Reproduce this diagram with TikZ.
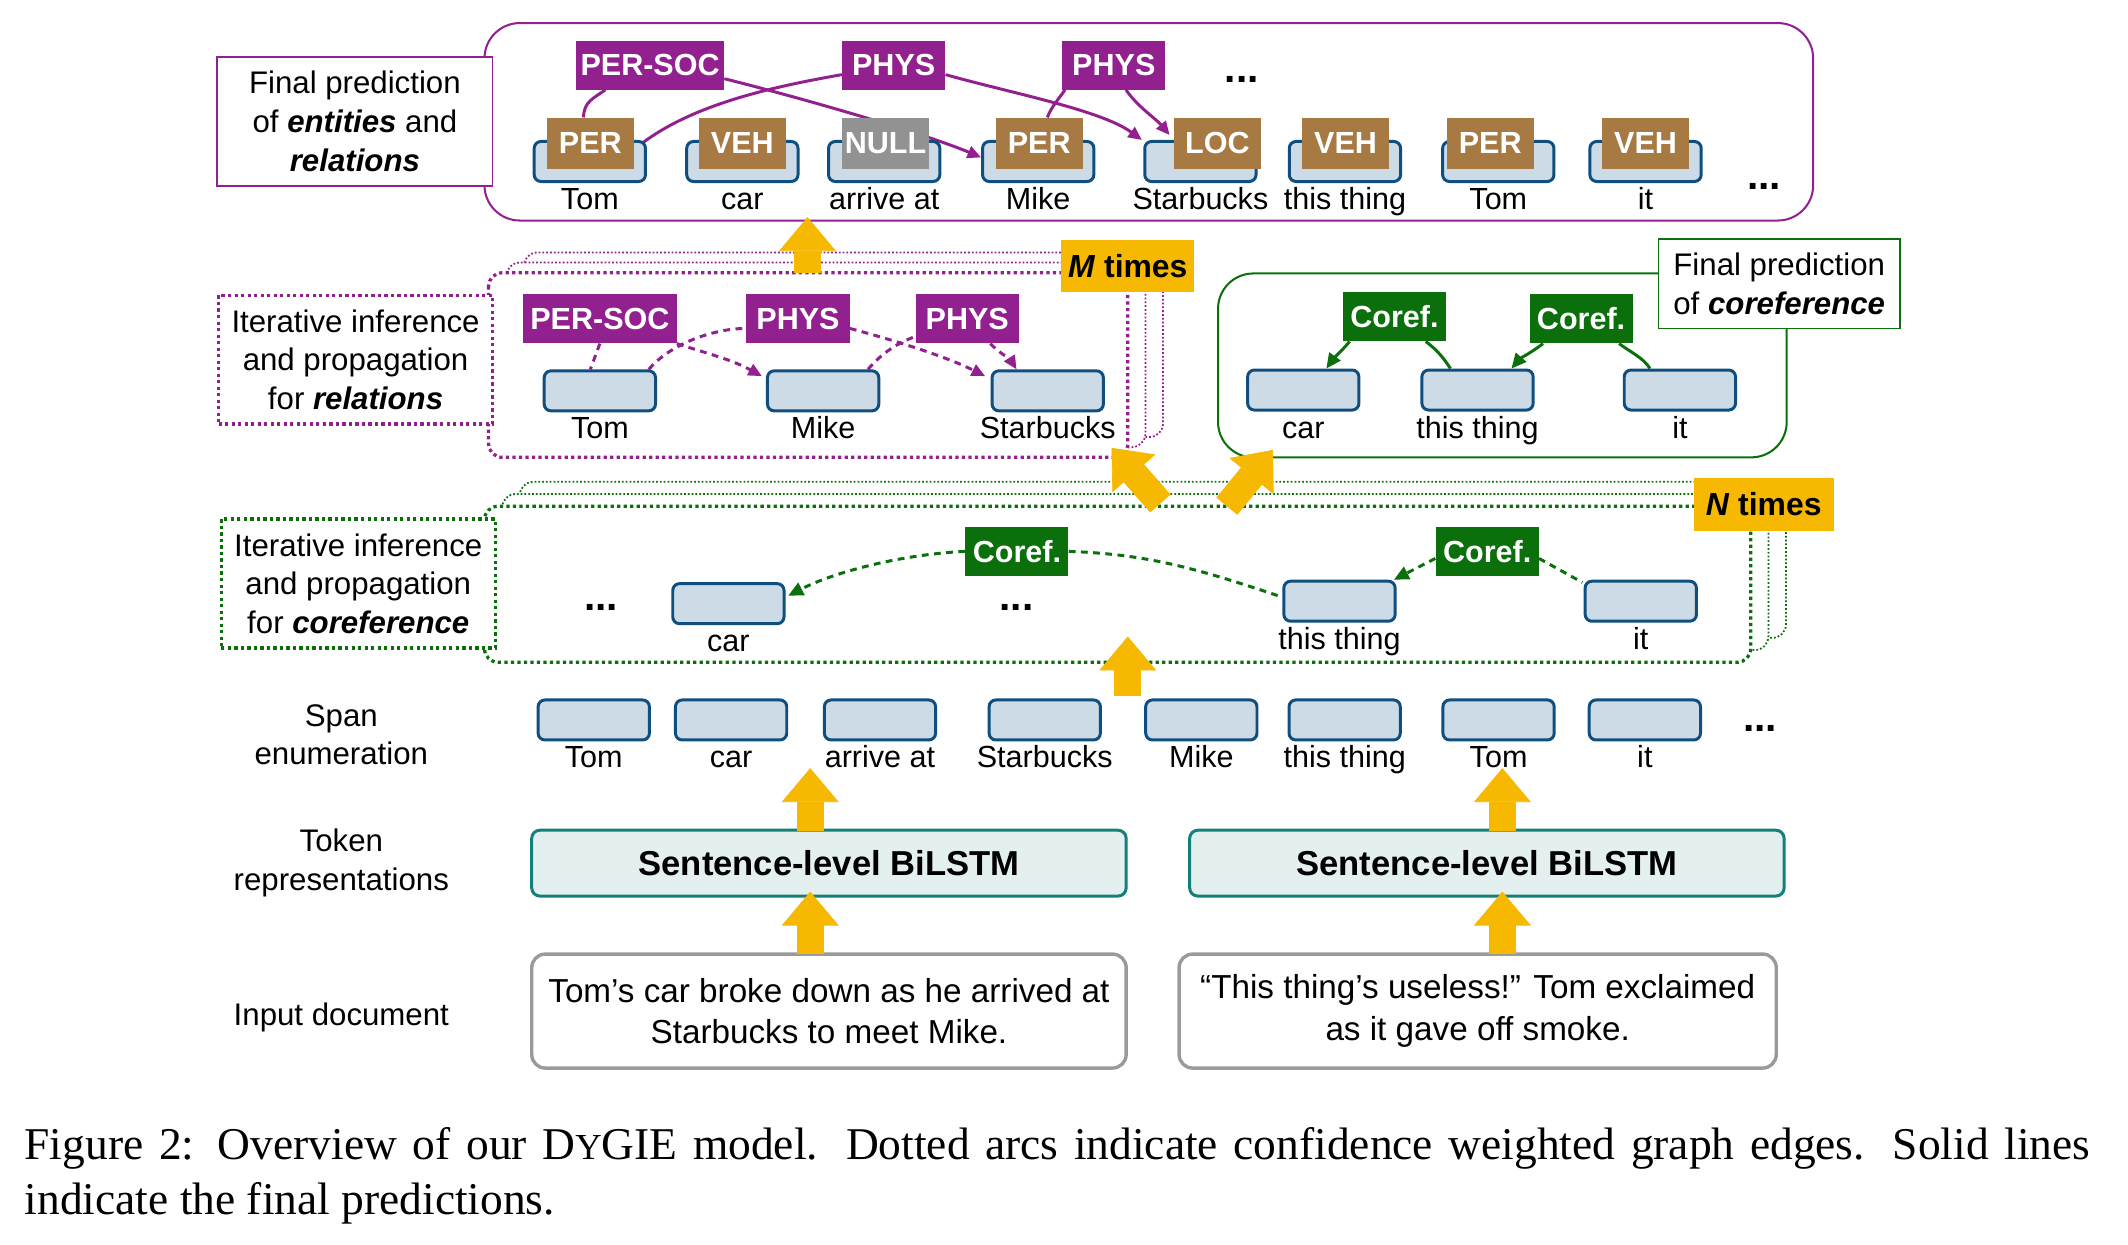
\documentclass[tikz,border=0pt]{standalone}
\usepackage{fontspec}
\setmainfont{Liberation Sans}
\newfontfamily\capfont{Liberation Serif}
\usetikzlibrary{arrows.meta,calc}
\pgfdeclarelayer{bg}
\pgfdeclarelayer{ln}
\pgfsetlayers{bg,ln,main}
\definecolor{mag}{HTML}{93208F}
\definecolor{entb}{HTML}{A77A43}
\definecolor{nullg}{HTML}{929292}
\definecolor{tokf}{HTML}{CDDBE6}
\definecolor{tokb}{HTML}{0E4F80}
\definecolor{grn}{HTML}{0B700B}
\definecolor{yel}{HTML}{F6B800}
\definecolor{tealb}{HTML}{13807A}
\definecolor{lstmf}{HTML}{E4F0EF}
\definecolor{docb}{HTML}{9A9A9A}
\newcommand\myfs[2]{\fontsize{#1}{#2}\selectfont}
\newcommand\mytok[4]{\node[tok] (#1) at (#2,#3) {}; \node[tokl] (#1l) at ($(#1.south)+(0,19.5)$) {#4};}
\tikzset{
  tok/.style={draw=tokb, fill=tokf, line width=2.2pt, rounded corners=5pt, minimum width=82pt, minimum height=29.5pt, inner sep=0pt},
  tokl/.style={font=\myfs{22.5}{27}, inner sep=0pt, anchor=base},
  tagb/.style={text=white, font=\bfseries\myfs{22.5}{27}, inner sep=0pt},
  ent/.style={tagb, fill=entb, minimum width=64pt, minimum height=37.5pt},
  rel/.style={tagb, fill=mag, minimum width=76pt, minimum height=36pt},
  cor/.style={tagb, fill=grn, minimum width=76pt, minimum height=36pt},
  ytag/.style={fill=yel, font=\bfseries\myfs{23.5}{28}, inner sep=0pt},
  sidel/.style={font=\myfs{23}{28.5}, align=center, inner sep=0pt},
  labbox/.style={sidel, fill=white, minimum width=202pt, minimum height=95pt},
  relline/.style={draw=mag, line width=2.2pt},
  reldash/.style={draw=mag, line width=2.2pt, dash pattern=on 5pt off 4pt},
  corline/.style={draw=grn, line width=2.2pt},
  cordash/.style={draw=grn, line width=2.2pt, dash pattern=on 5pt off 4pt},
  mtip/.style={-{Triangle[length=10pt,width=9pt]}},
  ctip/.style={-{Triangle[length=11pt,width=10pt]}},
  yarrow/.style={draw=yel, line width=20pt, -{Triangle[length=25pt,width=42pt,line width=0.5pt]}},
  dotthick/.style={line width=2.4pt, dash pattern=on 2.4pt off 2.4pt},
  dotthin/.style={line width=1.3pt, dash pattern=on 1.3pt off 1.5pt},
  ellip/.style={font=\bfseries\myfs{30}{30}, inner sep=0pt, anchor=base},
}
\begin{document}
\begin{tikzpicture}[x=1pt,y=-1pt]
\useasboundingbox (0,0) rectangle (1568,917);

% ---------- frames ----------
\begin{pgfonlayer}{bg}
\draw[mag, line width=1.5pt, rounded corners=26pt] (357,17) rectangle (1336,162.5);
\draw[mag, dotthin, fill=white, rounded corners=10pt] (386,186) rectangle (857,322);
\draw[mag, dotthin, fill=white, rounded corners=10pt] (373,193.5) rectangle (844,329.5);
\draw[mag, dotthick, fill=white, rounded corners=10pt] (360,201) rectangle (831,337);
\draw[grn, dotthin, fill=white, rounded corners=10pt] (383,355) rectangle (1316,470);
\draw[grn, dotthin, fill=white, rounded corners=10pt] (370,364) rectangle (1303,479);
\draw[grn, dotthick, fill=white, rounded corners=10pt] (357,373) rectangle (1290,488);
\draw[grn, line width=1.5pt, rounded corners=26pt] (897.5,201.5) rectangle (1316.5,337);
\end{pgfonlayer}

% ---------- label boxes ----------
\node[labbox, draw=mag, line width=1.2pt, minimum width=203pt] (entlab) at (261.5,89.5) {Final prediction\\of \textbf{\textit{entities}} and\\\textbf{\textit{relations}}};
\node[labbox, draw=mag, dotthick] (rellab) at (262,265) {Iterative inference\\and propagation\\for \textbf{\textit{relations}}};
\node[labbox, draw=grn, dotthick] (corlab) at (264,430) {Iterative inference\\and propagation\\for \textbf{\textit{coreference}}};
\node[sidel, draw=grn, line width=1.2pt, fill=white, minimum width=178pt, minimum height=66pt] (fcorlab) at (1311,209) {Final prediction\\of \textbf{\textit{coreference}}};

% ---------- final entities and relations ----------
\mytok{t1}{434.6}{119}{Tom}
\mytok{t2}{547}{119}{car}
\mytok{t3}{651.5}{119}{arrive at}
\mytok{t4}{765}{119}{Mike}
\mytok{t5}{884.5}{119}{Starbucks}
\mytok{t6}{991}{119}{this thing}
\mytok{t7}{1104}{119}{Tom}
\mytok{t8}{1212.5}{119}{it}
\node[ent] (e1) at (435,105.5) {PER};
\node[ent] (e2) at (547,105.5) {VEH};
\node[ent, fill=nullg] (e3) at (652.5,105.5) {NULL};
\node[ent] (e4) at (765.7,105.5) {PER};
\node[ent] (e5) at (897,105.5) {LOC};
\node[ent] (e6) at (991.5,105.5) {VEH};
\node[ent] (e7) at (1098,105.5) {PER};
\node[ent] (e8) at (1212.5,105.5) {VEH};
\node[rel, minimum width=109pt] (r1) at (479,48) {PER-SOC};
\node[rel] (r2) at (658.5,48) {PHYS};
\node[rel] (r3) at (820.7,48) {PHYS};
\node[ellip] (dd1) at (915,60.5) {...};
\node[ellip] (dd2) at (1300,139.3) {...};

% ---------- iterative relations ----------
\mytok{ra}{442}{288}{Tom}
\mytok{rb}{606.5}{288}{Mike}
\mytok{rc}{772}{288}{Starbucks}
\node[rel, minimum width=113pt] (rr1) at (442,235) {PER-SOC};
\node[rel] (rr2) at (588,235) {PHYS};
\node[rel] (rr3) at (712.7,235) {PHYS};

% ---------- final coreference ----------
\mytok{ca}{960.3}{287.4}{car}
\mytok{cb}{1088.7}{287.4}{this thing}
\mytok{cc}{1237.8}{287.4}{it}
\node[cor] (cf1) at (1027.5,233.4) {Coref.};
\node[cor] (cf2) at (1165,235) {Coref.};

% ---------- iterative coreference ----------
\mytok{ia}{536.7}{444.8}{car}
\mytok{ib}{987}{443}{this thing}
\mytok{ic}{1209}{443}{it}
\node[cor] (ci1) at (749.3,406.3) {Coref.};
\node[cor] (ci2) at (1095.8,406.5) {Coref.};
\node[ellip] (dd3) at (443,450) {...};
\node[ellip] (dd4) at (749,450) {...};

% ---------- span enumeration ----------
\mytok{s1}{437.5}{530.5}{Tom}
\mytok{s2}{538.7}{530.5}{car}
\mytok{s3}{648.4}{530.5}{arrive at}
\mytok{s4}{769.8}{530.5}{Starbucks}
\mytok{s5}{885.2}{530.5}{Mike}
\mytok{s6}{990.8}{530.5}{this thing}
\mytok{s7}{1104.2}{530.5}{Tom}
\mytok{s8}{1212}{530.5}{it}
\node[ellip] (dd5) at (1297,539) {...};

% ---------- BiLSTM and documents ----------
\node[draw=tealb, fill=lstmf, line width=2.2pt, rounded corners=6pt, minimum width=438pt, minimum height=48.5pt, font=\bfseries\myfs{25.5}{30}] (l1) at (610.8,636) {Sentence-level BiLSTM};
\node[draw=tealb, fill=lstmf, line width=2.2pt, rounded corners=6pt, minimum width=438pt, minimum height=48.5pt, font=\bfseries\myfs{25.5}{30}] (l2) at (1095.6,636) {Sentence-level BiLSTM};
\node[draw=docb, fill=white, line width=2.5pt, rounded corners=10pt, minimum width=438pt, minimum height=84pt, align=center, font=\myfs{24.5}{30.5}] (doc1) at (610.8,745) {Tom’s car broke down as he arrived at\\Starbucks to meet Mike.};
\node[draw=docb, fill=white, line width=2.5pt, rounded corners=10pt, minimum width=440pt, minimum height=84pt, align=center, font=\myfs{24.5}{30.5}] (doc2) at (1088.8,745) {“This thing’s useless!” Tom exclaimed\\as it gave off smoke.};

% ---------- side labels ----------
\node[sidel] (lspan) at (251.5,541.5) {Span\\enumeration};
\node[sidel] (ltok) at (251.5,636) {Token\\representations};
\node[sidel] (ldoc) at (251.5,750) {Input document};

% ---------- connectors ----------
\begin{pgfonlayer}{ln}
\draw[relline] ([xshift=-5pt]e1.north) .. controls +(0,-12) and +(-8,6) .. ([xshift=-33pt]r1.south);
\draw[relline, mtip] ([yshift=-10pt]r1.east) .. controls +(60,15) and +(-40,-17) .. ([yshift=3pt]t4.west);
\draw[relline] ([shift={(-3pt,-2pt)}]t1.north east) .. controls +(40,-30) and +(-45,8) .. ([yshift=-7pt]r2.west);
\draw[relline, mtip] ([yshift=-7pt]r2.east) .. controls +(50,14) and +(-30,-22) .. ([xshift=-1pt]t5.north west);
\draw[relline] ([xshift=6pt]e4.north) .. controls +(3,-8) and +(-4,6) .. ([xshift=-36pt]r3.south);
\draw[relline, mtip] ([xshift=9pt]r3.south) .. controls +(8,12) and +(-10,-12) .. ([shift={(-3pt,6pt)}]e5.west);

\draw[reldash] (rr1.south) -- ([xshift=-7pt]ra.north);
\draw[reldash, mtip] (rr1.south east) .. controls +(25,8) and +(-22,-12) .. ([shift={(-3pt,-5pt)}]rb.north west);
\draw[reldash] ([xshift=-6pt]ra.north east) .. controls +(15,-18) and +(-25,0) .. ([yshift=-7pt]rr2.west);
\draw[reldash, mtip] ([yshift=-7pt]rr2.east) .. controls +(30,8) and +(-30,-15) .. ([shift={(-4pt,-5pt)}]rc.north west);
\draw[reldash] ([xshift=-9pt]rb.north east) .. controls +(10,-12) and +(-12,4) .. ([yshift=-13pt]rr3.west);
\draw[reldash, mtip] ([xshift=17pt]rr3.south) .. controls +(8,8) and +(-5,-8) .. ([xshift=-23pt]rc.north);

\draw[corline, ctip] ([xshift=-33pt]cf1.south) .. controls +(-6,7) and +(5,-7) .. ([xshift=17pt]ca.north);
\draw[corline] ([xshift=23pt]cf1.south) .. controls +(8,6) and +(-5,-8) .. ([xshift=-20pt]cb.north);
\draw[corline, ctip] ([xshift=-28pt]cf2.south) .. controls +(-8,6) and +(6,-7) .. ([xshift=25pt]cb.north);
\draw[corline] ([xshift=28pt]cf2.south) .. controls +(8,6) and +(-5,-8) .. ([xshift=-22pt]cc.north);

\draw[cordash, ctip] (ci1.west) .. controls +(-45,2) and +(35,-18) .. ([shift={(2pt,-10pt)}]ia.north east);
\draw[cordash] (ci1.east) .. controls +(60,2) and +(-60,-20) .. ([yshift=3pt]ib.west);
\draw[cordash, ctip] ([yshift=-5pt]ci2.west) -- ([xshift=-2pt]ib.north east);
\draw[cordash] ([yshift=-5pt]ci2.east) -- ([shift={(-1pt,-2pt)}]ic.north west);
\end{pgfonlayer}

% ---------- repetition tags ----------
\node[ytag, minimum width=98pt, minimum height=38.5pt] (mt) at (831,195.8) {\textit{M} times};
\node[ytag, minimum width=103pt, minimum height=39pt] (nt) at (1299.5,371.5) {\textit{N} times};

% ---------- yellow flow arrows ----------
\coordinate (y1a) at (595,201);  \coordinate (y1b) at (595,160);
\coordinate (y2a) at (855,371);  \coordinate (y2b) at (819,330);
\coordinate (y3a) at (904,373);  \coordinate (y3b) at (938,331.5);
\coordinate (y4a) at (831,513);  \coordinate (y4b) at (831,469);
\coordinate (y5a) at (597,612);  \coordinate (y5b) at (597,566);
\coordinate (y6a) at (1107,612); \coordinate (y6b) at (1107,566);
\coordinate (y7a) at (597,703);  \coordinate (y7b) at (597,657);
\coordinate (y8a) at (1107,703); \coordinate (y8b) at (1107,657);
\draw[yarrow] (y1a) -- (y1b);
\draw[yarrow] (y2a) -- (y2b);
\draw[yarrow] (y3a) -- (y3b);
\draw[yarrow] (y4a) -- (y4b);
\draw[yarrow] (y5a) -- (y5b);
\draw[yarrow] (y6a) -- (y6b);
\draw[yarrow] (y7a) -- (y7b);
\draw[yarrow] (y8a) -- (y8b);

% ---------- caption ----------
\node[anchor=base west, inner sep=0pt, font=\capfont\myfs{33.5}{41}] (cap1) at (18,854) {\makebox[1522pt][s]{Figure 2: Overview of our D{\myfs{27}{27}Y}GIE model.  Dotted arcs indicate confidence weighted graph edges.  Solid lines}};
\node[anchor=base west, inner sep=0pt, font=\capfont\myfs{33.5}{41}] (cap2) at (18,895) {indicate the final predictions.};
\end{tikzpicture}
\end{document}
